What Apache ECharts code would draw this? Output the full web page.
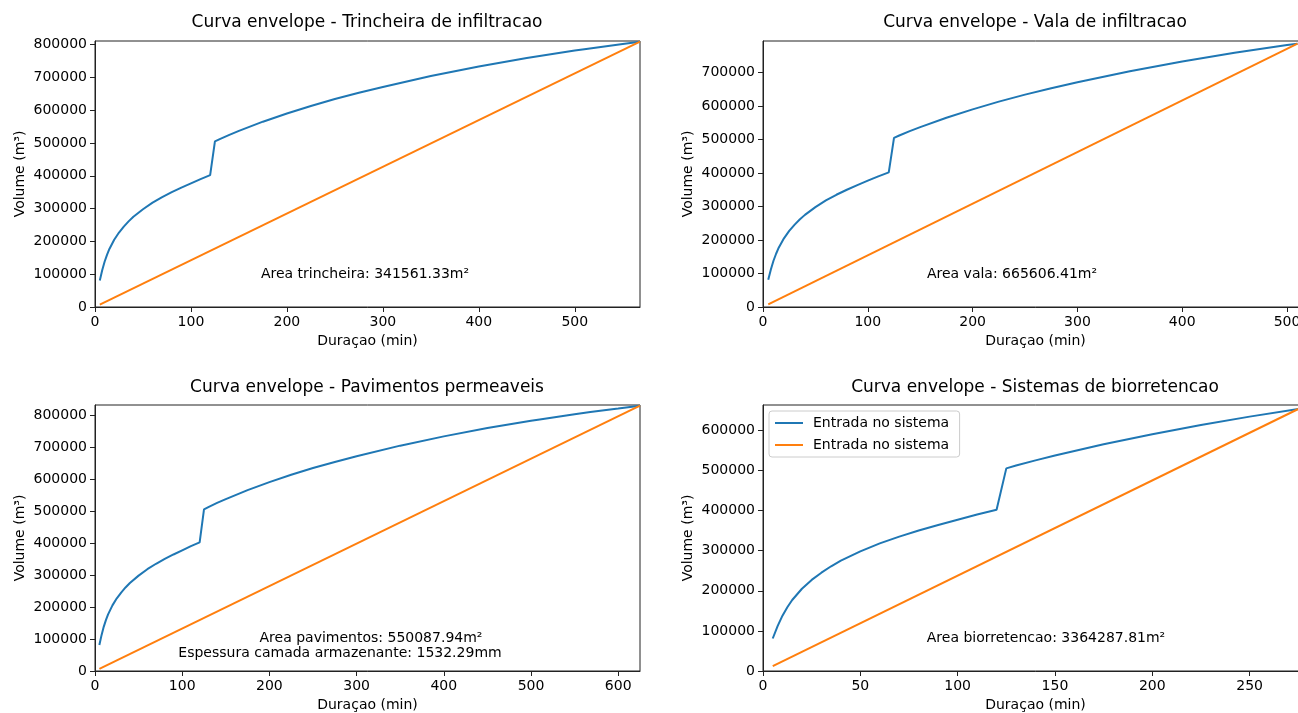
<!DOCTYPE html>
<html>
<head>
<meta charset="utf-8">
<script src="https://cdn.jsdelivr.net/npm/echarts@6/dist/echarts.min.js"></script>
<style>
html,body{margin:0;padding:0;background:#fff;overflow:hidden;}
#chart{width:1320px;height:713px;}
</style>
</head>
<body>
<div id="chart"></div>
<script>
// ---- data ----
const panelTitles = [
  'Curva envelope - Trincheira de infiltracao',
  'Curva envelope - Vala de infiltracao',
  'Curva envelope - Pavimentos permeaveis',
  'Curva envelope - Sistemas de biorretencao'
];
// inflow volume curve (m³) vs duration (min), same for all systems
const durations = [5,7.5,10,12.5,15,20,25,30,35,40,50,60,70,80,90,100,110,120,125,130,140,150,175,200,225,250,275,300,350,400,450,500,510,550,568,600,625];
const inflow    = [81000,112000,138000,159000,177000,205000,227000,245000,261000,275000,298000,318000,335000,350000,364000,377000,390000,402000,505000,512000,525000,537000,565000,590000,613000,634000,653000,671000,704000,733000,759000,782000,786000,802000,809000,820000,829000];
// end (intersection) duration of each panel
const endDuration = [568, 510, 625, 275];
// outflow line: value at the first duration (the line ends on the inflow curve)
const outflowStart = [7100, 7700, 6600, 11900];
const xMax = [568, 520, 625, 280];
const yMax = [811000, 794000, 831000, 663000];
const xTicks = [
  [0,100,200,300,400,500],
  [0,100,200,300,400,500],
  [0,100,200,300,400,500,600],
  [0,50,100,150,200,250]
];
const yTicks = [
  [0,100000,200000,300000,400000,500000,600000,700000,800000],
  [0,100000,200000,300000,400000,500000,600000,700000],
  [0,100000,200000,300000,400000,500000,600000,700000,800000],
  [0,100000,200000,300000,400000,500000,600000]
];
const annotations = [
  ['Area trincheira: 341561.33m²'],
  ['Area vala: 665606.41m²'],
  ['Area pavimentos: 550087.94m²', 'Espessura camada armazenante: 1532.29mm'],
  ['Area biorretencao: 3364287.81m²']
];
const legendNames = ['Entrada no sistema', 'Entrada no sistema '];
const xName = 'Duraçao (min)';
const yName = 'Volume (m³)';

// ---- layout ----
const FONT = '"DejaVu Sans", "Liberation Sans", sans-serif';
const grids = [
  {left: 95,  top: 41,  width: 545, height: 266},
  {left: 763, top: 41,  width: 545, height: 266},
  {left: 95,  top: 405, width: 545, height: 266},
  {left: 763, top: 405, width: 545, height: 266}
];
const titlePos = [[367, 23], [1035, 23], [367, 388], [1035, 388]];
const annotPos = [
  [[365, 274]],
  [[1012, 274]],
  [[371, 638], [340, 653]],
  [[1046, 638]]
];
const BLUE = '#1f77b4', ORANGE = '#ff7f0e', INK = '#000';

const option = {
  animation: false,
  backgroundColor: '#fff',
  textStyle: {fontFamily: FONT},
  grid: grids.map(g => Object.assign({show: true, borderColor: '#222', borderWidth: 1, backgroundColor: 'transparent', containLabel: false}, g)),
  xAxis: grids.map((g, i) => ({
    type: 'value', gridIndex: i, min: 0, max: xMax[i],
    name: xName, nameLocation: 'middle', nameGap: 27,
    nameTextStyle: {fontSize: 14, color: INK, fontFamily: FONT},
    axisLine: {show: true, onZero: false, lineStyle: {color: '#222', width: 1}},
    axisTick: {show: true, inside: false, length: 5, lineStyle: {color: '#222', width: 1}, customValues: xTicks[i]},
    axisLabel: {show: true, margin: 8, fontSize: 14, color: INK, fontFamily: FONT, customValues: xTicks[i], formatter: v => String(v)},
    splitLine: {show: false}
  })),
  yAxis: grids.map((g, i) => ({
    type: 'value', gridIndex: i, min: 0, max: yMax[i],
    name: yName, nameLocation: 'middle', nameGap: 68,
    nameTextStyle: {fontSize: 14, color: INK, fontFamily: FONT},
    axisLine: {show: true, onZero: false, lineStyle: {color: '#222', width: 1}},
    axisTick: {show: true, inside: false, length: 5, lineStyle: {color: '#222', width: 1}, customValues: yTicks[i]},
    axisLabel: {show: true, margin: 8, fontSize: 14, color: INK, fontFamily: FONT, customValues: yTicks[i], formatter: v => String(v)},
    splitLine: {show: false}
  })),
  legend: {
    data: legendNames,
    orient: 'vertical',
    left: 769, top: 411,
    icon: 'path://M0,0L28,0L28,2L0,2Z',
    symbolKeepAspect: true,
    itemWidth: 28, itemHeight: 14, itemGap: 8,
    padding: [5, 6, 5, 6],
    backgroundColor: 'rgba(255,255,255,0.8)',
    borderColor: '#ccc', borderWidth: 1, borderRadius: 3,
    textStyle: {fontSize: 14, color: INK, fontFamily: FONT, padding: [0, 0, 0, 5]}
  },
  series: [],
  graphic: []
};

for (let i = 0; i < 4; i++) {
  const tEnd = endDuration[i];
  const blue = [];
  for (let k = 0; k < durations.length; k++) {
    if (durations[k] <= tEnd) blue.push([durations[k], inflow[k]]);
  }
  const vEnd = inflow[durations.indexOf(tEnd)];
  const orange = [[durations[0], outflowStart[i]], [tEnd, vEnd]];
  option.series.push({
    type: 'line', name: i === 3 ? legendNames[0] : 'inflow' + i,
    xAxisIndex: i, yAxisIndex: i, data: blue,
    symbol: 'none', showSymbol: false, smooth: false, color: BLUE,
    itemStyle: {color: BLUE},
    lineStyle: {color: BLUE, width: 2}
  });
  option.series.push({
    type: 'line', name: i === 3 ? legendNames[1] : 'outflow' + i,
    xAxisIndex: i, yAxisIndex: i, data: orange,
    symbol: 'none', showSymbol: false, color: ORANGE,
    itemStyle: {color: ORANGE},
    lineStyle: {color: ORANGE, width: 2}
  });
  option.graphic.push({
    type: 'text', x: titlePos[i][0], y: titlePos[i][1],
    style: {text: panelTitles[i], fontSize: 17, fontFamily: FONT, fill: INK, textAlign: 'center', textVerticalAlign: 'middle'}
  });
  annotations[i].forEach((txt, j) => {
    option.graphic.push({
      type: 'text', x: annotPos[i][j][0], y: annotPos[i][j][1], z: 100,
      style: {text: txt, fontSize: 14, fontFamily: FONT, fill: INK, textAlign: 'center', textVerticalAlign: 'middle'}
    });
  });
}

const chart = echarts.init(document.getElementById('chart'), null, {renderer: 'canvas', width: 1320, height: 713});
chart.setOption(option);
</script>
</body>
</html>
